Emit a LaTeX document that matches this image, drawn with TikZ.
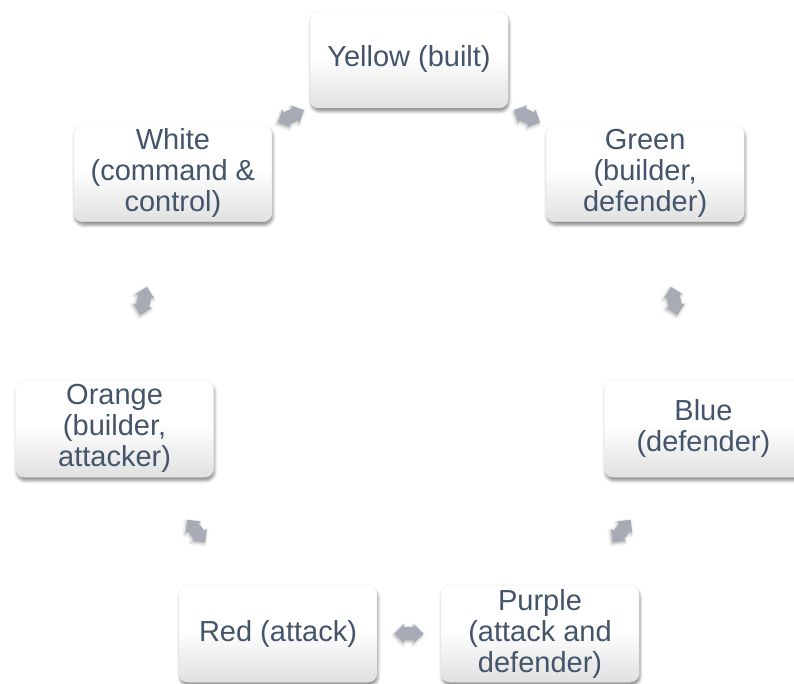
\documentclass[tikz,border=0pt]{standalone}
\usepackage{fontspec}
\setmainfont{Liberation Sans}
\usetikzlibrary{calc,shapes.arrows,shadows.blur}

\definecolor{labeltext}{HTML}{44546A}
\definecolor{arrowgray}{RGB}{166,171,181}
% white card fading to light grey towards the bottom edge
\pgfdeclareverticalshading{cardshade}{100bp}{color(0bp)=(black!12); color(25bp)=(black!12); color(52bp)=(white); color(100bp)=(white)}

\tikzset{
  card/.style={rectangle, rounded corners=9pt, minimum width=198pt, minimum height=97pt,
    inner sep=0pt, shade, shading=cardshade, draw=black!7, line width=0.4pt,
    text=labeltext, align=center, font=\fontsize{29}{31}\selectfont,
    blur shadow={shadow xshift=1pt, shadow yshift=-3.5pt, shadow blur radius=3pt, shadow opacity=45}},
  duoarrow/.style={double arrow, fill=arrowgray, draw=none, minimum height=29pt,
    inner sep=6.5pt, double arrow head extend=3pt,
    blur shadow={shadow xshift=-1pt, shadow yshift=-1.5pt, shadow blur radius=3pt, shadow opacity=30}}
}

% double-headed block arrow halfway between two neighbouring cards
\newcommand\cyclelink[2]{%
  \path let \p1=($(#2)-(#1)$) in
    node[duoarrow, rotate={atan2(\y1,\x1)}] (#1-#2) at ($(#1)!0.5!(#2)$) {};}

\begin{document}
\begin{tikzpicture}[x=1pt, y=1pt]
  \path[use as bounding box, clip] (0,0) rectangle (794,684);
  \coordinate (hub) at (409,322.5);

  \node[card] (yellow) at ($(hub)+(90:302)$)       {Yellow (built)};
  \node[card] (green)  at ($(hub)+(38.571:302)$)   {Green\\(builder,\\defender)};
  \node[card] (blue)   at ($(hub)+(-12.857:302)$)  {Blue\\(defender)};
  \node[card] (purple) at ($(hub)+(-64.286:302)$)  {Purple\\(attack and\\defender)};
  \node[card] (red)    at ($(hub)+(-115.714:302)$) {Red (attack)};
  \node[card] (orange) at ($(hub)+(-167.143:302)$) {Orange\\(builder,\\attacker)};
  \node[card] (white)  at ($(hub)+(141.429:302)$)  {White\\(command \&\\control)};

  \cyclelink{yellow}{green}
  \cyclelink{green}{blue}
  \cyclelink{blue}{purple}
  \cyclelink{purple}{red}
  \cyclelink{red}{orange}
  \cyclelink{orange}{white}
  \cyclelink{white}{yellow}
\end{tikzpicture}
\end{document}
